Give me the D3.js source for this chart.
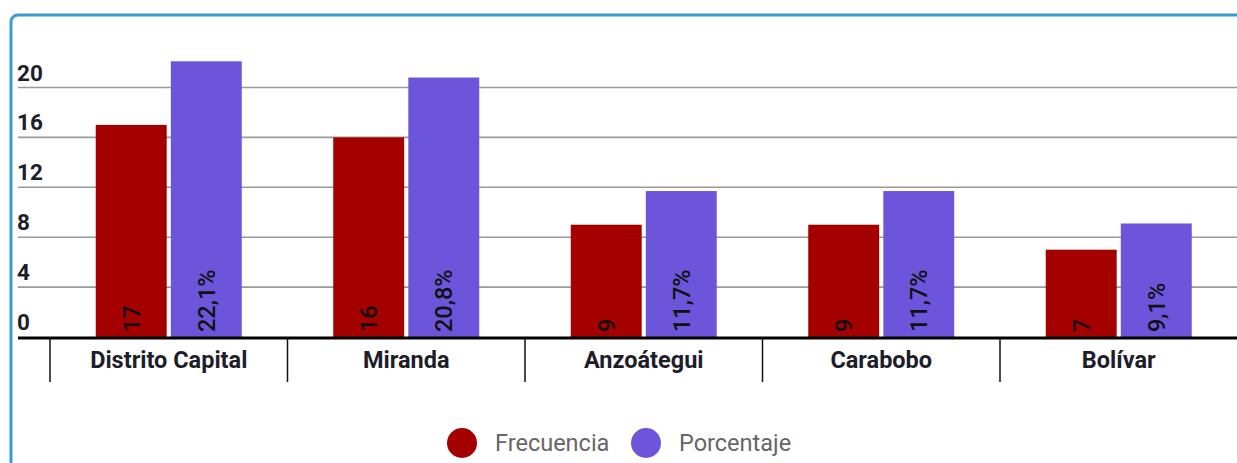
<!DOCTYPE html>
<html><head><meta charset="utf-8">
<script src="https://cdn.jsdelivr.net/npm/d3@7"></script>
<style>
html,body{margin:0;padding:0;background:#fff;overflow:hidden;}
svg{display:block;font-family:Roboto,"Noto Sans",sans-serif;}
</style></head>
<body>
<svg id="chart" width="1237" height="463"></svg>
<script>
const categories = ["Distrito Capital","Miranda","Anzoátegui","Carabobo","Bolívar"];
const frecuencia = [17,16,9,9,7];
const porcentaje = [22.1,20.8,11.7,11.7,9.1];
const porcentajeLabels = ["22,1%","20,8%","11,7%","11,7%","9,1%"];
const yTicks = [0,4,8,12,16,20];
const seriesNames = ["Frecuencia","Porcentaje"];
const colors = ["#a50000","#6d55db"];

const svg = d3.select("#chart");

// outer card border
svg.append("rect").attr("x",11).attr("y",15).attr("width",1260).attr("height",500)
  .attr("rx",7).attr("fill","none").attr("stroke","#3a9bd3").attr("stroke-width",3);

const y = d3.scaleLinear().domain([0,20]).range([337,87.5]);
const x = d3.scaleBand().domain(categories).range([50, 50 + 237.5*categories.length]).paddingInner(0).paddingOuter(0);
const xs = d3.scaleBand().domain(seriesNames).range([-73,73]).paddingInner(0.055);

// gridlines + y labels
const g = svg.append("g");
yTicks.forEach(t=>{
  if(t!==0){
    g.append("line").attr("x1",18).attr("x2",1237).attr("y1",y(t)).attr("y2",y(t))
      .attr("stroke","#9a9a9a").attr("stroke-width",1.6);
  }
  g.append("text").attr("x",17).attr("y",y(t)-7).text(t)
    .attr("font-size",22.5).attr("font-weight","bold").attr("fill","#1e1e2a");
});

// bars
const data = categories.map((c,i)=>({c, vals:[
  {s:"Frecuencia",v:frecuencia[i],label:String(frecuencia[i])},
  {s:"Porcentaje",v:porcentaje[i],label:porcentajeLabels[i]}]}));

const groups = svg.append("g").selectAll("g").data(data).join("g")
  .attr("transform",d=>`translate(${x(d.c)+x.bandwidth()/2},0)`);
groups.selectAll("rect").data(d=>d.vals).join("rect")
  .attr("x",d=>xs(d.s)).attr("width",xs.bandwidth())
  .attr("y",d=>y(d.v)).attr("height",d=>y(0)-y(d.v))
  .attr("fill",(d,i)=>colors[i]);
groups.selectAll("text").data(d=>d.vals).join("text")
  .attr("transform",d=>`translate(${xs(d.s)+xs.bandwidth()/2},${y(0)-5}) rotate(-90)`)
  .attr("dy","0.36em").attr("font-size",23.5).attr("font-weight",500).attr("fill","#111").text(d=>d.label);

// baseline
svg.append("line").attr("x1",18).attr("x2",1237).attr("y1",y(0)+1).attr("y2",y(0)+1)
  .attr("stroke","#000").attr("stroke-width",3);

// category separators + labels
categories.forEach(c=>{
  svg.append("line").attr("x1",x(c)).attr("x2",x(c)).attr("y1",y(0)).attr("y2",382)
    .attr("stroke","#111").attr("stroke-width",1.5);
  svg.append("text").attr("x",x(c)+x.bandwidth()/2).attr("y",368)
    .attr("text-anchor","middle").attr("font-size",23.5).attr("font-weight","bold")
    .attr("fill","#1e1e2a").text(c);
});

// legend
const legendX = [462,646];
seriesNames.forEach((s,i)=>{
  svg.append("circle").attr("cx",legendX[i]).attr("cy",443).attr("r",15).attr("fill",colors[i]);
  svg.append("text").attr("x",legendX[i]+33).attr("y",451).attr("font-size",23.5)
    .attr("fill","#666").text(s);
});
</script>
</body></html>
